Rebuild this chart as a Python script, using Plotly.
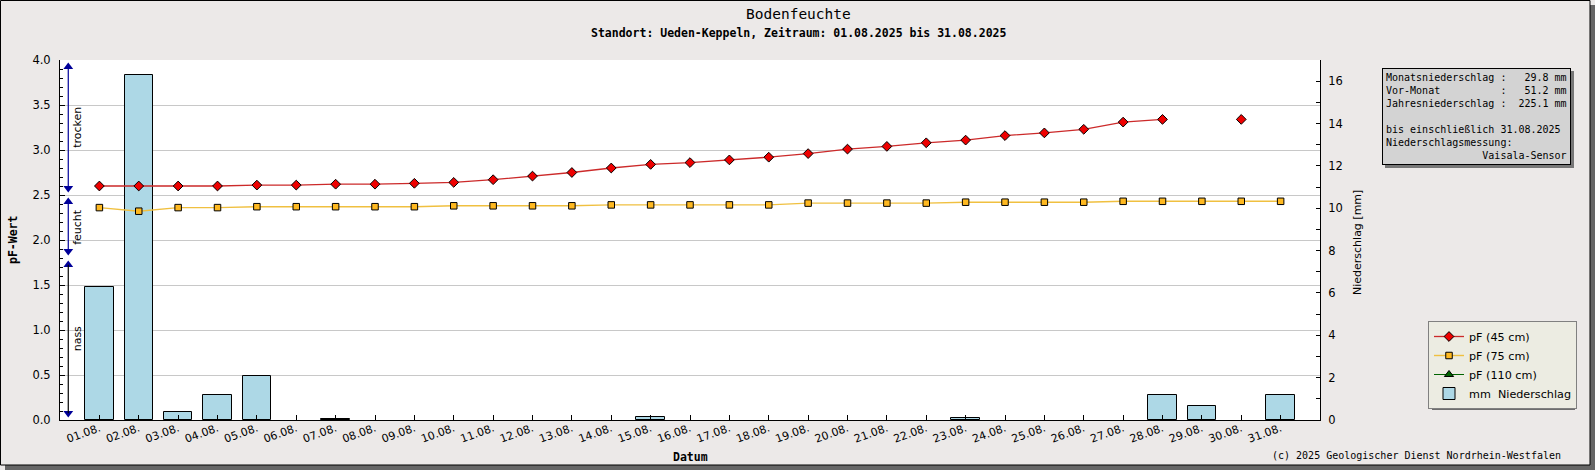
import plotly.graph_objects as go

# Daten
days = list(range(1, 32))
tick_labels = [f"{d:02d}.08." for d in days]

pf_45 = [2.60, 2.60, 2.60, 2.60, 2.61, 2.61, 2.62, 2.62, 2.63, 2.64,
         2.67, 2.71, 2.75, 2.80, 2.84, 2.86, 2.89, 2.92, 2.96, 3.01,
         3.04, 3.08, 3.11, 3.16, 3.19, 3.23, 3.31, 3.34, None, 3.34, None]
pf_75 = [2.36, 2.32, 2.36, 2.36, 2.37, 2.37, 2.37, 2.37, 2.37, 2.38,
         2.38, 2.38, 2.38, 2.39, 2.39, 2.39, 2.39, 2.39, 2.41, 2.41,
         2.41, 2.41, 2.42, 2.42, 2.42, 2.42, 2.43, 2.43, 2.43, 2.43, 2.43]
pf_110 = [None] * 31
# Tage ohne Niederschlag: None
niederschlag = [6.3, 16.3, 0.4, 1.2, 2.1, None, 0.05, None, None, None,
                None, None, None, None, 0.15, None, None, None, None, None,
                None, None, 0.1, None, None, None, None, 1.2, 0.65, None, 1.2]

# Bereiche am linken Rand
zonen = [("trocken", 2.5, 4.0, "#000099"),
         ("feucht", 1.8, 2.5, "#000099"),
         ("nass", 0.0, 1.8, "black")]

info_lines = ["Monatsniederschlag :   29.8 mm",
              "Vor-Monat          :   51.2 mm",
              "Jahresniederschlag :  225.1 mm",
              "",
              "bis einschließlich 31.08.2025",
              "Niederschlagsmessung:",
              "                Vaisala-Sensor"]

W, H = 1595, 470
L, R, T, B = 60, 1320, 60, 420
MONO = "DejaVu Sans Mono"
SANS = "DejaVu Sans"


def px(x):
    return (x - L) / (R - L)


def py(y):
    return (B - y) / (B - T)


fig = go.Figure()

fig.add_trace(go.Bar(x=days, y=niederschlag, name="mm\u00a0\u00a0Niederschlag",
                     marker=dict(color="#add8e6", line=dict(color="black", width=1)),
                     width=0.72, yaxis="y", legendrank=4))

fig.add_trace(go.Scatter(x=days, y=pf_45, name="pF (45 cm)", mode="lines+markers",
                         line=dict(color="#cc2a2a", width=1.3),
                         marker=dict(symbol="diamond", size=7.5, color="#ee0000",
                                     line=dict(color="black", width=1)),
                         yaxis="y2", legendrank=1))
fig.add_trace(go.Scatter(x=days, y=pf_75, name="pF (75 cm)", mode="lines+markers",
                         line=dict(color="#f0c040", width=1.4),
                         marker=dict(symbol="square", size=6.5, color="#ffb920",
                                     line=dict(color="black", width=1)),
                         yaxis="y2", legendrank=2))
fig.add_trace(go.Scatter(x=days, y=pf_110, name="pF (110 cm)", mode="lines+markers",
                         line=dict(color="#006400", width=1),
                         marker=dict(symbol="triangle-up", size=8, color="#006400",
                                     line=dict(color="black", width=1)),
                         yaxis="y2", legendrank=3))

# Pfeile der Bereiche
shapes = []
annotations = []
ax_x = 0.21
head_x, head_y, head_sym = [], [], []
for name, lo, hi, col in zonen:
    top = hi - 0.075
    bot = lo + 0.075
    shapes.append(dict(type="line", xref="x", yref="y2", x0=ax_x, x1=ax_x,
                       y0=bot, y1=top, line=dict(color=col, width=1.2)))
    head_x += [ax_x, ax_x]
    head_y += [top, bot]
    head_sym += ["triangle-up", "triangle-down"]
    annotations.append(dict(text=name, xref="x", yref="y2", x=0.44, y=(lo + hi) / 2,
                            xanchor="center", yanchor="middle",
                            textangle=-90, showarrow=False,
                            font=dict(family=SANS, size=11, color="black")))

fig.add_trace(go.Scatter(x=head_x, y=head_y, mode="markers", yaxis="y2",
                         marker=dict(symbol=head_sym, size=8.5, color="#000099"),
                         showlegend=False, hoverinfo="skip", cliponaxis=False))

# Rahmen und Schatten
shapes += [
    dict(type="rect", xref="paper", yref="paper", x0=px(1590), x1=px(1595),
         y0=py(5), y1=py(470), fillcolor="#666666", line_width=0, layer="below"),
    dict(type="rect", xref="paper", yref="paper", x0=px(5), x1=px(1595),
         y0=py(465), y1=py(470), fillcolor="#666666", line_width=0, layer="below"),
    dict(type="rect", xref="paper", yref="paper", x0=px(0.5), x1=px(1590),
         y0=py(0.5), y1=py(465), line=dict(color="black", width=1), layer="above"),
    # Schatten Infobox
    dict(type="rect", xref="paper", yref="paper", x0=px(1385), x1=px(1574),
         y0=py(71), y1=py(168), fillcolor="#777777", line_width=0, layer="below"),
    # Schatten Legende
    dict(type="rect", xref="paper", yref="paper", x0=px(1432), x1=px(1575),
         y0=py(325), y1=py(410), fillcolor="#6e6e6e", line_width=0, layer="below"),
]


def label(text, x, y, size, family=MONO, angle=0, xanchor="center"):
    return dict(text=text, xref="paper", yref="paper", x=px(x), y=py(y),
                xanchor=xanchor, yanchor="middle", textangle=angle, showarrow=False,
                font=dict(family=family, size=size, color="black"))


info_text = "<br>".join(s.replace(" ", "\u00a0") if s else "\u00a0" for s in info_lines)
annotations += [
    label("Bodenfeuchte", 798, 14, 14.5),
    label("<b>Standort: Ueden-Keppeln, Zeitraum: 01.08.2025 bis 31.08.2025</b>", 798, 33, 11.5),
    label("<b>pF-Wert</b>", 13, 240, 11.5, angle=-90),
    label("Niederschlag [mm]", 1357, 242, 11, family=SANS, angle=-90),
    label("<b>Datum</b>", 690, 457, 11.5),
    label("(c) 2025 Geologischer Dienst Nordrhein-Westfalen", 1563, 455, 10,
          xanchor="right"),
    dict(text=info_text, xref="paper", yref="paper", x=px(1382), y=py(68),
         xanchor="left", yanchor="top", align="left", showarrow=False,
         bgcolor="#d3d3d3", bordercolor="black", borderwidth=1, borderpad=3,
         font=dict(family=MONO, size=10, color="black")),
]

fig.update_layout(
    width=W, height=H,
    margin=dict(l=L, r=W - R, t=T, b=H - B, autoexpand=False),
    paper_bgcolor="#ece9e8", plot_bgcolor="white",
    bargap=0, showlegend=True,
    shapes=shapes, annotations=annotations,
    legend=dict(x=px(1428), y=py(321), xanchor="left", yanchor="top",
                bgcolor="#ececE2", bordercolor="#808080", borderwidth=1,
                font=dict(family=SANS, size=11.2, color="black"),
                tracegroupgap=0),
    xaxis=dict(range=[0, 32], tickmode="array", tickvals=days, ticktext=tick_labels,
               tickangle=-20, ticks="inside", ticklen=5, tickcolor="black",
               showline=True, linecolor="black", linewidth=1, showgrid=False,
               zeroline=False, ticklabelstandoff=-3,
               tickfont=dict(family=SANS, size=11, color="black")),
    yaxis=dict(side="right", range=[0, 17], dtick=2, ticks="inside", ticklen=4,
               tickcolor="black", showline=True, linecolor="black", showgrid=False,
               zeroline=False, minor=dict(dtick=1, ticks="inside", ticklen=4,
                                          tickcolor="black", showgrid=False),
               ticklabelstandoff=5,
               tickfont=dict(family=SANS, size=11.5, color="black")),
    yaxis2=dict(side="left", overlaying="y", range=[0, 4], dtick=0.5,
                tickformat=".1f", ticks="inside", ticklen=5, tickcolor="black",
                showline=True, linecolor="black", showgrid=True, gridcolor="#c8c8c8",
                zeroline=False, minor=dict(dtick=0.1, ticks="inside", ticklen=3,
                                           tickcolor="black", showgrid=False),
                ticklabelstandoff=6,
                tickfont=dict(family=SANS, size=11.5, color="black")),
)

fig.write_html("out.html", config={"displayModeBar": False},
               post_script="document.body.style.margin='0';")
